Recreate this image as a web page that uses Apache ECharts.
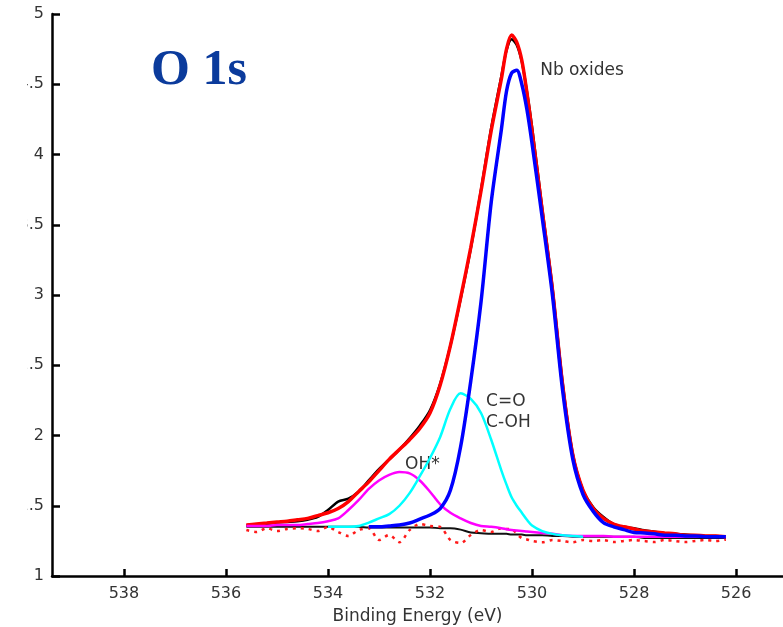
<!DOCTYPE html>
<html>
<head>
<meta charset="utf-8">
<script src="https://cdn.jsdelivr.net/npm/echarts@6/dist/echarts.min.js"></script>
<style>
html,body{margin:0;padding:0;background:#fff;}
#chart{width:783px;height:627px;}
</style>
</head>
<body>
<div id="chart"></div>
<script>
// Binding energy grid (eV)
const energy = [535.6,535.4,535.2,535.0,534.8,534.6,534.4,534.2,534.0,533.8,533.6,533.4,533.2,533.0,532.8,532.6,532.4,532.2,532.0,531.8,531.6,531.4,531.2,531.0,530.8,530.6,530.5,530.4,530.3,530.2,530.1,530.0,529.8,529.6,529.4,529.2,529.0,528.8,528.6,528.4,528.2,528.0,527.8,527.6,527.4,527.2,527.0,526.8,526.6,526.4,526.2];

// Measured spectrum (black)
const measured = [1.36,1.365,1.37,1.38,1.385,1.39,1.40,1.42,1.47,1.53,1.55,1.60,1.68,1.76,1.83,1.90,1.98,2.07,2.18,2.37,2.64,2.97,3.33,3.75,4.19,4.56,4.74,4.82,4.78,4.66,4.45,4.20,3.62,3.06,2.38,1.87,1.61,1.49,1.42,1.37,1.35,1.34,1.325,1.315,1.305,1.30,1.295,1.29,1.285,1.285,1.28];

// Fit envelope (red)
const envelope = [1.363,1.37,1.377,1.384,1.39,1.40,1.41,1.43,1.45,1.48,1.53,1.60,1.67,1.75,1.83,1.90,1.97,2.05,2.16,2.36,2.64,2.98,3.34,3.74,4.17,4.54,4.75,4.85,4.80,4.67,4.44,4.17,3.60,3.04,2.36,1.86,1.61,1.48,1.41,1.37,1.35,1.335,1.32,1.313,1.306,1.30,1.29,1.29,1.285,1.285,1.28];

// Nb oxides component (blue)
const nbOxides = [null,null,null,null,null,null,null,null,null,null,null,null,1.35,1.35,1.356,1.363,1.377,1.405,1.434,1.48,1.61,1.92,2.39,2.95,3.66,4.18,4.45,4.58,4.60,4.50,4.32,4.08,3.55,3.00,2.32,1.83,1.58,1.46,1.38,1.35,1.33,1.31,1.306,1.30,1.29,1.29,1.285,1.285,1.28,1.28,1.28];

// C=O / C-OH component (cyan)
const cOH = [null,null,null,null,null,null,null,null,1.35,1.35,1.35,1.356,1.38,1.41,1.44,1.50,1.59,1.71,1.84,1.99,2.19,2.30,2.26,2.16,1.97,1.75,1.65,1.56,1.50,1.45,1.40,1.36,1.32,1.30,1.29,1.285,1.28,null,null,null,null,null,null,null,null,null,null,null,null,null,null];

// OH* component (magenta)
const ohStar = [1.356,1.356,1.356,1.363,1.363,1.363,1.37,1.377,1.39,1.41,1.47,1.54,1.62,1.68,1.72,1.74,1.73,1.68,1.60,1.51,1.45,1.41,1.377,1.356,1.35,1.34,1.333,1.327,1.323,1.32,1.316,1.313,1.306,1.30,1.29,1.285,1.285,1.285,1.285,1.28,1.28,1.28,1.28,1.28,1.28,1.28,1.28,1.28,1.28,1.28,1.28];

// Background (black, flat)
const background = [1.35,1.35,1.35,1.35,1.35,1.35,1.35,1.35,1.35,1.35,1.35,1.35,1.345,1.345,1.345,1.345,1.345,1.345,1.345,1.34,1.34,1.33,1.31,1.305,1.30,1.30,1.30,1.295,1.295,1.295,1.29,1.29,1.29,1.285,1.285,1.28,1.28,1.28,1.28,1.28,1.28,1.28,1.27,1.27,1.27,1.27,1.27,1.27,1.27,1.27,1.27];

// Residual (red dotted)
const residual = [1.327,1.313,1.34,1.32,1.335,1.34,1.335,1.32,1.349,1.313,1.285,1.327,1.34,1.256,1.292,1.24,1.327,1.37,1.356,1.349,1.256,1.235,1.292,1.327,1.313,1.34,1.335,1.335,1.30,1.27,1.26,1.249,1.24,1.256,1.249,1.24,1.256,1.249,1.256,1.242,1.249,1.256,1.249,1.242,1.256,1.249,1.242,1.249,1.256,1.249,1.26];

// Axis ticks
const xTicks = [526,528,530,532,534,536,538];

// Peak annotations
const annoText = ['Nb oxides','C=O','C-OH','OH*'];
const annoAt = [[529.84,4.60],[530.90,2.24],[530.90,2.09],[532.49,1.79]];

function pairs(arr){ return energy.map((e,i)=>[e, arr[i]]); }

const chart = echarts.init(document.getElementById('chart'));
const sans = 'DejaVu Sans';
chart.setOption({
  animation:false,
  backgroundColor:'#ffffff',
  title:{
    text:'O 1s', left:151, top:46, padding:0,
    textStyle:{fontFamily:'Liberation Serif', fontWeight:'bold', fontSize:50, color:'#0b3b9c'}
  },
  grid:{left:52, right:0, top:14, bottom:51, containLabel:false, outerBoundsMode:'none'},
  xAxis:{
    type:'value', inverse:true, min:525.08, max:539.41,
    name:'Binding Energy (eV)', nameLocation:'middle', nameGap:32,
    nameTextStyle:{fontFamily:sans, fontSize:17, color:'#333'},
    axisLine:{lineStyle:{color:'#000', width:2.5}},
    axisTick:{inside:true, length:7, lineStyle:{color:'#000', width:2.5}, customValues:xTicks},
    axisLabel:{margin:10, fontFamily:sans, fontSize:16, color:'#333', customValues:xTicks},
    splitLine:{show:false}
  },
  yAxis:{
    type:'value', min:1, max:5, interval:0.5,
    axisLine:{show:true, lineStyle:{color:'#000', width:2.5}},
    axisTick:{show:true, inside:true, length:8, lineStyle:{color:'#000', width:2.5}},
    axisLabel:{margin:8, fontFamily:sans, fontSize:16, color:'#333'},
    splitLine:{show:false}
  },
  graphic:[{type:'rect', left:0, top:0, z:100, shape:{width:27, height:570}, style:{fill:'#fff'}}],
  series:[
    {type:'line', name:'measured', data:pairs(measured), showSymbol:false, smooth:0.3,
     lineStyle:{color:'#000', width:2.5}, z:1},
    {type:'line', name:'background', data:pairs(background), showSymbol:false, smooth:0.3,
     lineStyle:{color:'#111', width:2}, z:2},
    {type:'line', name:'envelope', data:pairs(envelope), showSymbol:false, smooth:0.3,
     lineStyle:{color:'#ff0000', width:3.5}, z:3},
    {type:'line', name:'residual', data:pairs(residual), showSymbol:false, smooth:0.3,
     lineStyle:{color:'#ff1a1a', width:2.5, type:[3,5]}, z:4},
    {type:'line', name:'OH*', data:pairs(ohStar), showSymbol:false, smooth:0.3,
     lineStyle:{color:'#ff00ff', width:2.5}, z:5},
    {type:'line', name:'C=O / C-OH', data:pairs(cOH), showSymbol:false, smooth:0.3, connectNulls:false,
     lineStyle:{color:'#00ffff', width:2.5}, z:6},
    {type:'line', name:'Nb oxides', data:pairs(nbOxides), showSymbol:false, smooth:0.3, connectNulls:false,
     lineStyle:{color:'#0000ff', width:3.5}, z:7,
     markPoint:{
       symbol:'circle', symbolSize:0, silent:true,
       label:{show:true, position:[0,0], align:'left', verticalAlign:'middle',
              fontFamily:sans, fontSize:17, color:'#333', formatter:'{b}'},
       data:annoText.map((t,i)=>({name:t, coord:annoAt[i]}))
     }}
  ]
});
</script>
</body>
</html>
